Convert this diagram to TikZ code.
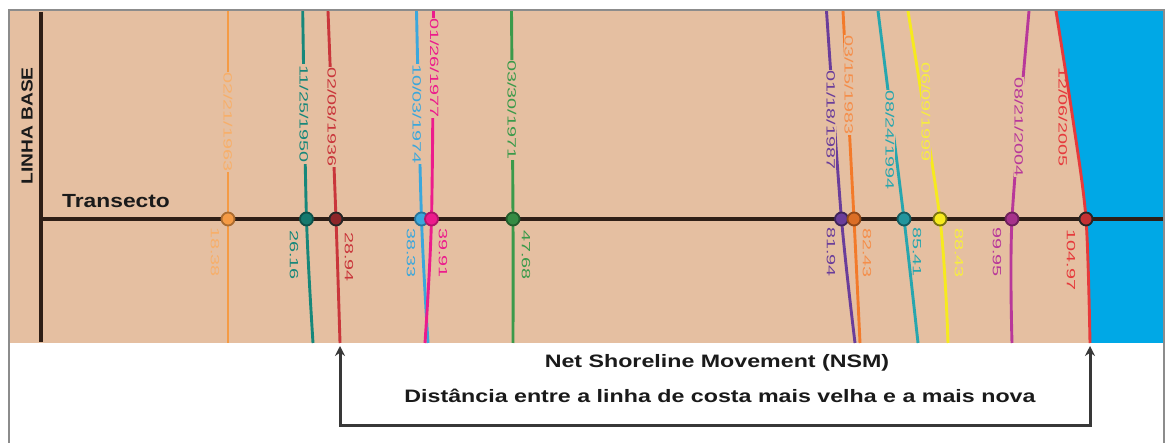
\documentclass[tikz,border=0pt]{standalone}
\usepackage{fontspec}
\setmainfont{Liberation Sans}
\usetikzlibrary{arrows.meta}
\definecolor{tanbg}{HTML}{E5BFA1}
\definecolor{water}{HTML}{00A8E6}
\definecolor{framegray}{HTML}{8C8C8C}
\definecolor{darkline}{HTML}{2E1E16}
\definecolor{c1963}{HTML}{F59B45}
\definecolor{c1950}{HTML}{17877A}
\definecolor{c1936}{HTML}{C9363B}
\definecolor{c1974}{HTML}{3BA7DC}
\definecolor{c1977}{HTML}{EC1C8C}
\definecolor{c1971}{HTML}{3B9A4A}
\definecolor{c1987}{HTML}{6A3D9A}
\definecolor{c1983}{HTML}{F37A2A}
\definecolor{c1994}{HTML}{27A6AE}
\definecolor{cyel}{HTML}{F6EA1E}
\definecolor{c2004}{HTML}{B8389A}
\definecolor{c2005}{HTML}{E63A3C}
\definecolor{txtdark}{HTML}{1A1A1A}
\newcommand{\stlab}[1]{\scalebox{1.65}[1]{#1}}
\newcommand{\sthor}[1]{\scalebox{1.29}[1]{#1}}
\tikzset{
  shore/.style={line width=2.9pt},
  datelab/.style={rotate=-90, inner sep=0.8pt, fill=tanbg, font=\fontsize{12}{12}\selectfont},
  vallab/.style={rotate=-90, inner sep=0pt, font=\fontsize{12}{12}\selectfont},
  dot/.style={circle, minimum size=13pt, inner sep=0pt, line width=1.8pt},
  bigtxt/.style={font=\fontsize{18}{18}\selectfont\bfseries, text=txtdark, inner sep=0pt},
  nsmarrow/.style={line width=3pt, draw=black!78, {Stealth[length=10pt,width=10pt]}-{Stealth[length=10pt,width=10pt]}},
}
\begin{document}
\begin{tikzpicture}[x=1pt,y=-1pt]
\useasboundingbox (0,0) rectangle (1168,443);
% background
\fill[tanbg] (9,10) rectangle (1164,343);
\fill[water] plot[smooth] coordinates {(1056,11) (1073,120) (1086,219) (1090,343)} -- (1164,343) -- (1164,10) -- cycle;
% shorelines
\draw[shore,c1963] plot[smooth] coordinates {(228,11) (228,219) (228,343)};
\draw[shore,c1950] plot[smooth] coordinates {(302.7,11) (306.5,219) (313,343)};
\draw[shore,c1936] plot[smooth] coordinates {(328,11) (336,219) (340,343)};
\draw[shore,c1974] plot[smooth] coordinates {(416.5,11) (421.5,219) (428,343)};
\draw[shore,c1977] plot[smooth] coordinates {(433.5,11) (431.5,219) (425,343)};
\draw[shore,c1971] plot[smooth] coordinates {(511.5,11) (513,219) (513,343)};
\draw[shore,c1987] plot[smooth] coordinates {(826.5,11) (841.5,219) (855,343)};
\draw[shore,c1983] plot[smooth] coordinates {(843,11) (854,219) (860,343)};
\draw[shore,c1994] plot[smooth] coordinates {(878,11) (904,219) (918,343)};
\draw[shore,cyel] plot[smooth] coordinates {(908,11) (940,219) (948,343)};
\draw[shore,c2004] plot[smooth] coordinates {(1029,11) (1012,219) (1012,343)};
\draw[shore,c2005] plot[smooth] coordinates {(1056,11) (1073,120) (1086,219) (1090,343)};
% date labels
\node[datelab,text=c1963!80] (l1963) at (228,122) {\stlab{02/21/1963}};
\node[datelab,text=c1950] (l1950) at (304,114) {\stlab{11/25/1950}};
\node[datelab,text=c1936] (l1936) at (332,117) {\stlab{02/08/1936}};
\node[datelab,text=c1974] (l1974) at (417,114) {\stlab{10/03/1974}};
\node[datelab,text=c1977] (l1977) at (434.5,68) {\stlab{01/26/1977}};
\node[datelab,text=c1971] (l1971) at (512,110) {\stlab{03/30/1971}};
\node[datelab,text=c1987] (l1987) at (831,120) {\stlab{01/18/1987}};
\node[datelab,text=c1983!85] (l1983) at (849,85) {\stlab{03/15/1983}};
\node[datelab,text=c1994] (l1994) at (890,140) {\stlab{08/24/1994}};
\node[datelab,text=cyel!85!white] (lyel) at (926,112) {\stlab{06/09/1999}};
\node[datelab,text=c2004] (l2004) at (1019,127) {\stlab{08/21/2004}};
\node[vallab,text=c2005] (l2005) at (1063,117) {\stlab{12/06/2005}};
% transect and baseline
\draw[darkline, line width=3.2pt] (41,219) -- (1164,219);
\draw[darkline, line width=4.5pt] (41,12) -- (41,342);
% value labels
\node[vallab,text=c1963!80] (v1963) at (215,252) {\stlab{18.38}};
\node[vallab,text=c1950] (v1950) at (294,255) {\stlab{26.16}};
\node[vallab,text=c1936] (v1936) at (349,257) {\stlab{28.94}};
\node[vallab,text=c1974] (v1974) at (411,253) {\stlab{38.33}};
\node[vallab,text=c1977] (v1977) at (443,253) {\stlab{39.91}};
\node[vallab,text=c1971] (v1971) at (526,255) {\stlab{47.68}};
\node[vallab,text=c1987] (v1987) at (831,252) {\stlab{81.94}};
\node[vallab,text=c1983!85] (v1983) at (867,253) {\stlab{82.43}};
\node[vallab,text=c1994] (v1994) at (917,252) {\stlab{85.41}};
\node[vallab,text=cyel!85!white] (vyel) at (959,253) {\stlab{88.43}};
\node[vallab,text=c2004] (v2004) at (997,252) {\stlab{99.95}};
\node[vallab,text=c2005] (v2005) at (1071,260) {\stlab{104.97}};
% dots
\node[dot,fill=c1963,draw=c1963!70!black] (d1963) at (228,219) {};
\node[dot,fill=c1950!90!black,draw=c1950!60!black] (d1950) at (306.5,219) {};
\node[dot,fill=c1936!70!black,draw=black!85] (d1936) at (336,219) {};
\node[dot,fill=c1974,draw=c1974!70!black] (d1974) at (421.5,219) {};
\node[dot,fill=c1977,draw=c1977!75!black] (d1977) at (431.5,219) {};
\node[dot,fill=c1971!90!black,draw=c1971!60!black] (d1971) at (513,219) {};
\node[dot,fill=c1987,draw=c1987!60!black] (d1987) at (841.5,219) {};
\node[dot,fill=c1983!90!black,draw=c1983!60!black] (d1983) at (854,219) {};
\node[dot,fill=c1994!90!black,draw=c1994!55!black] (d1994) at (904,219) {};
\node[dot,fill=cyel,draw=cyel!50!black] (dyel) at (940,219) {};
\node[dot,fill=c2004!90!black,draw=c2004!60!black] (d2004) at (1012,219) {};
\node[dot,fill=c2005!85!black,draw=black!85] (d2005) at (1086,219) {};
% texts
\node[bigtxt, font=\fontsize{19}{19}\selectfont\bfseries, anchor=base west] (transecto) at (62,208) {\scalebox{1.2}[1]{Transecto}};
\node[bigtxt, font=\fontsize{16}{16}\selectfont\bfseries, rotate=90] (linhabase) at (27,126) {\scalebox{1.2}[1]{LINHA BASE}};
\node[bigtxt, anchor=base] (nsm) at (717,368) {\sthor{Net Shoreline Movement (NSM)}};
\node[bigtxt, anchor=base] (dist) at (720,403) {\sthor{Distância entre a linha de costa mais velha e a mais nova}};
% frame
\draw[framegray, line width=1.8pt] (9,443) -- (9,10) -- (1164,10) -- (1164,443);
% NSM arrow
\coordinate (b1936) at (340,346);
\coordinate (b2005) at (1090,346);
\coordinate (nsmbase) at (0,426);
\draw[nsmarrow] (b1936) -- (b1936 |- nsmbase) -- (b2005 |- nsmbase) -- (b2005);
\end{tikzpicture}
\end{document}
